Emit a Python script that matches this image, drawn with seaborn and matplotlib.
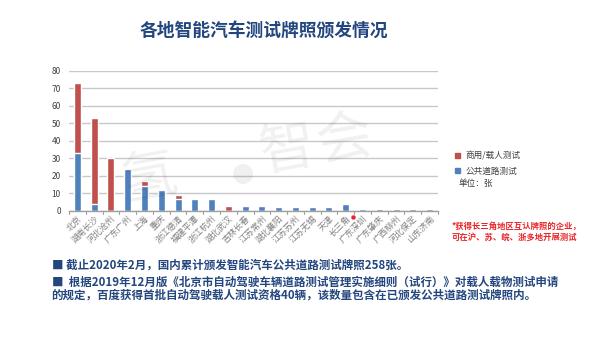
import matplotlib
matplotlib.use("Agg")
import matplotlib.pyplot as plt
import seaborn as sns
import pandas as pd
import numpy as np
from matplotlib.patches import Patch

cities = ["北京", "湖南长沙", "河北沧州", "广东广州", "上海", "重庆", "浙江德清", "福建平潭",
          "浙江杭州", "湖北武汉", "吉林长春", "江苏常州", "湖北襄阳", "江苏苏州", "江苏无锡",
          "天津", "长三角", "广东深圳", "广东肇庆", "广西柳州", "河北保定", "山东济南"]
public_road = [33, 4, 0, 24, 14, 12, 7, 7, 7, 0, 3, 3, 2, 2, 2, 2, 4, 1, 1, 1, 1, 1]
commercial = [40, 49, 30, 0, 3, 0, 2, 0, 0, 3, 0, 0, 0, 0, 0, 0, 0, 0, 0, 0, 0, 0]
yticks = [0, 10, 20, 30, 40, 50, 60, 70, 80]

sns.set_theme(style="white")
plt.rcParams['font.family'] = ['Noto Sans CJK SC', 'DejaVu Sans']

BLUE = "#4F81BD"
RED = "#C0504D"
NAVY = "#23467f"

df = pd.DataFrame({"city": cities,
                   "public": public_road,
                   "total": np.array(public_road) + np.array(commercial)})

fig = plt.figure(figsize=(6, 3.38), dpi=100)
ax = fig.add_axes([0.115, 0.376, 0.615, 0.414])

sns.barplot(data=df, x="city", y="total", color=RED, width=0.42, ax=ax,
            saturation=1, order=cities)
sns.barplot(data=df, x="city", y="public", color=BLUE, width=0.42, ax=ax,
            saturation=1, order=cities)

ax.set_ylim(0, 80)
ax.set_xlim(-0.5, len(cities) - 0.5)
ax.set_yticks(yticks)
ax.set_yticklabels([str(v) for v in yticks], fontsize=6, color="#404040")
ax.yaxis.grid(True, color="#c8c8c8", linewidth=1.0)
ax.set_axisbelow(True)
ax.set_xlabel("")
ax.set_ylabel("")
for s in ["left", "right", "top"]:
    ax.spines[s].set_visible(False)
ax.spines["bottom"].set_color("#a0a0a0")
ax.spines["bottom"].set_linewidth(1.0)
ax.tick_params(axis="y", length=0, pad=6)
ax.set_xticks(range(len(cities)))
ax.set_xticklabels(cities, rotation=45, ha="right", rotation_mode="anchor",
                   fontsize=6.2, color="#808080")
ax.tick_params(axis="x", length=0, pad=2)
# boundary tick marks
for b in np.arange(-0.5, len(cities), 1.0):
    ax.plot([b, b], [0, -0.025], transform=ax.get_xaxis_transform(),
            color="#a0a0a0", lw=0.8, clip_on=False)
# red dot by 长三角
ax.plot([16.45], [-0.04], marker="o", ms=2.2, color="#e8262a",
        transform=ax.get_xaxis_transform(), clip_on=False)

# watermark
fig.text(0.25, 0.47, "氢", fontsize=40, color="#000000", alpha=0.06, rotation=10,
         ha="center", va="center")
fig.text(0.405, 0.48, "●", fontsize=16, color="#000000", alpha=0.06,
         ha="center", va="center")
fig.text(0.48, 0.555, "智", fontsize=40, color="#000000", alpha=0.06, rotation=10,
         ha="center", va="center")
fig.text(0.575, 0.585, "会", fontsize=40, color="#000000", alpha=0.06, rotation=10,
         ha="center", va="center")

# title
fig.text(0.44, 0.905, "各地智能汽车测试牌照颁发情况", fontsize=12.8, fontweight="bold",
         color=NAVY, ha="center", va="center")

# legend
handles = [Patch(color=RED, label="商用/载人测试"), Patch(color=BLUE, label="公共道路测试")]
leg = fig.legend(handles=handles, loc="upper left", bbox_to_anchor=(0.745, 0.575),
                 frameon=False, fontsize=6.2, handlelength=0.6, handleheight=0.6,
                 handletextpad=0.6, labelspacing=0.7, labelcolor="#404040")
fig.text(0.765, 0.458, "单位：张", fontsize=6.2, color="#404040", ha="left", va="center")

# red note
fig.text(0.752, 0.33, "*获得长三角地区互认牌照的企业，", fontsize=6, fontweight="bold",
         color="#e8262a", ha="left", va="center")
fig.text(0.752, 0.298, "可在沪、苏、皖、浙多地开展测试", fontsize=6, fontweight="bold",
         color="#e8262a", ha="left", va="center")

# bottom notes
fig.text(0.087, 0.216, "■ 截止2020年2月，国内累计颁发智能汽车公共道路测试牌照258张。",
         fontsize=8.3, fontweight="bold", color=NAVY, ha="left", va="center")
fig.text(0.087, 0.166, "■  根据2019年12月版《北京市自动驾驶车辆道路测试管理实施细则（试行）》对载人载物测试申请",
         fontsize=8.3, fontweight="bold", color=NAVY, ha="left", va="center")
fig.text(0.085, 0.126, "的规定，百度获得首批自动驾驶载人测试资格40辆，该数量包含在已颁发公共道路测试牌照内。",
         fontsize=8.3, fontweight="bold", color=NAVY, ha="left", va="center")

fig.savefig("out.png", dpi=100, facecolor="white")
